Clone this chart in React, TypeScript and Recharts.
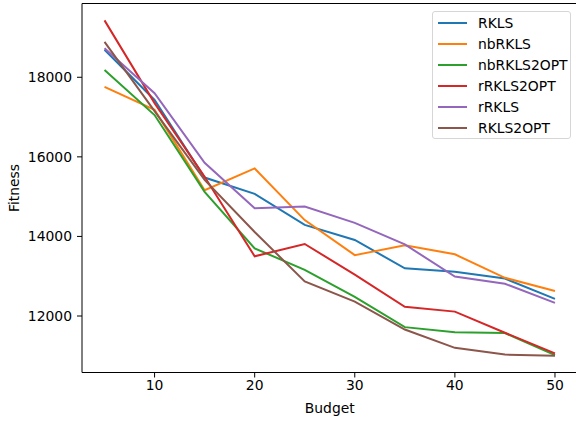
import React from 'react';
import { LineChart, Line, XAxis, YAxis, ReferenceArea, Legend } from 'recharts';

const budgets = [5, 10, 15, 20, 25, 30, 35, 40, 45, 50];

const rkls = [18690, 17430, 15480, 15070, 14290, 13910, 13200, 13110, 12940, 12430];
const nbRkls = [17760, 17180, 15160, 15710, 14410, 13530, 13780, 13550, 12960, 12630];
const nbRkls2opt = [18180, 17050, 15120, 13700, 13160, 12480, 11720, 11590, 11570, 11020];
const rRkls2opt = [19430, 17350, 15500, 13500, 13810, 13040, 12230, 12110, 11580, 11060];
const rRkls = [18730, 17600, 15850, 14710, 14750, 14340, 13800, 12990, 12810, 12330];
const rkls2opt = [18890, 17150, 15420, 14110, 12870, 12360, 11660, 11200, 11030, 11000];

const xTicks = [10, 20, 30, 40, 50];
const yTicks = [12000, 14000, 16000, 18000];

const series = [
  { key: 'RKLS', values: rkls, color: '#1f77b4' },
  { key: 'nbRKLS', values: nbRkls, color: '#ff7f0e' },
  { key: 'nbRKLS2OPT', values: nbRkls2opt, color: '#2ca02c' },
  { key: 'rRKLS2OPT', values: rRkls2opt, color: '#d62728' },
  { key: 'rRKLS', values: rRkls, color: '#9467bd' },
  { key: 'RKLS2OPT', values: rkls2opt, color: '#8c564b' },
];

const data = budgets.map((b, i) => {
  const row: Record<string, number> = { budget: b };
  series.forEach((s) => {
    row[s.key] = s.values[i];
  });
  return row;
});

const X_DOMAIN: [number, number] = [2.75, 52.25];
const Y_DOMAIN: [number, number] = [10580, 19854];

const font = 'DejaVu Sans, sans-serif';

function LegendBox() {
  return (
    <div
      style={{
        position: 'absolute',
        left: 432,
        top: 11,
        width: 139,
        height: 128,
        boxSizing: 'border-box',
        border: '1px solid #d6d6d6',
        borderRadius: 3,
        background: 'rgba(255,255,255,0.8)',
        fontFamily: font,
        fontSize: 13.9,
        color: '#000',
      }}
    >
      {series.map((s, i) => (
        <div
          key={s.key}
          style={{ position: 'absolute', left: 5, top: 1 + i * 20.9, height: 20, display: 'flex', alignItems: 'center' }}
        >
          <div style={{ width: 29, height: 2, background: s.color }} />
          <span style={{ marginLeft: 11 }}>{s.key}</span>
        </div>
      ))}
    </div>
  );
}

export default function App() {
  return (
    <div style={{ position: 'fixed', left: 0, top: 0, width: 576, height: 421, background: '#fff', overflow: 'hidden' }}>
      <LineChart
        width={576}
        height={421}
        data={data}
        margin={{ top: 3.5, right: -1.5, left: 0, bottom: 0 }}
        style={{ fontFamily: font }}
      >
        <XAxis
          dataKey="budget"
          type="number"
          domain={X_DOMAIN}
          ticks={xTicks}
          allowDataOverflow
          height={48.5}
          tickSize={5}
          tickMargin={3}
          axisLine={false}
          tickLine={{ stroke: '#000' }}
          tick={{ fill: '#000', fontSize: 13.9 }}
          label={{ value: 'Budget', position: 'insideBottom', offset: 8, fill: '#000', fontSize: 13.9 }}
        />
        <YAxis
          type="number"
          domain={Y_DOMAIN}
          ticks={yTicks}
          allowDataOverflow
          width={82}
          tickSize={5}
          tickMargin={5}
          axisLine={false}
          tickLine={{ stroke: '#000' }}
          tick={{ fill: '#000', fontSize: 13.9 }}
          label={{
            value: 'Fitness',
            angle: -90,
            position: 'insideLeft',
            offset: 14,
            fill: '#000',
            fontSize: 13.9,
            style: { textAnchor: 'middle' },
          }}
        />
        <ReferenceArea
          x1={X_DOMAIN[0]}
          x2={X_DOMAIN[1]}
          y1={Y_DOMAIN[0]}
          y2={Y_DOMAIN[1]}
          fill="none"
          stroke="#000"
          strokeWidth={1}
          ifOverflow="visible"
        />
        {series.map((s) => (
          <Line
            key={s.key}
            dataKey={s.key}
            stroke={s.color}
            strokeWidth={2}
            dot={false}
            activeDot={false}
            type="linear"
            isAnimationActive={false}
          />
        ))}
        <Legend content={() => null} />
      </LineChart>
      <LegendBox />
    </div>
  );
}
